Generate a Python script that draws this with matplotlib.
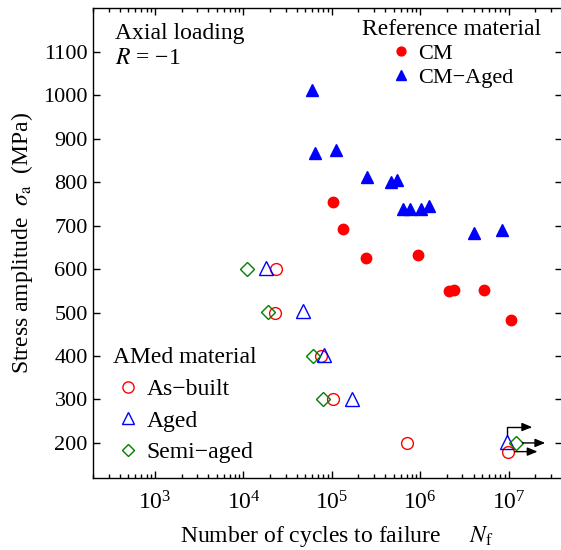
import matplotlib
matplotlib.use("Agg")
import matplotlib.pyplot as plt
from matplotlib.transforms import offset_copy

plt.rcParams['font.family'] = ['Liberation Serif', 'DejaVu Serif']
plt.rcParams['mathtext.fontset'] = 'stix'

# reference material (wrought) -- cycles, stress amplitude MPa
cm_n = [1.02e5, 1.32e5, 2.44e5, 9.5e5, 2.1e6, 2.43e6, 5.2e6, 1.05e7]
cm_s = [754, 693, 626, 633, 550, 553, 553, 483]

cm_aged_n = [5.9e4, 6.4e4, 1.11e5, 2.48e5, 4.7e5, 5.4e5, 6.3e5, 7.7e5, 1.01e6, 1.24e6, 4.1e6, 8.4e6]
cm_aged_s = [1012, 868, 875, 812, 800, 806, 738, 738, 738, 744, 684, 689]

# AMed material
asbuilt_n = [2.35e4, 2.28e4, 7.6e4, 1.04e5, 7.0e5, 9.9e6]
asbuilt_s = [600, 500, 400, 300, 200, 180]

aged_n = [1.82e4, 4.7e4, 8.1e4, 1.7e5, 9.6e6]
aged_s = [602, 503, 402, 302, 203]

semi_n = [1.1e4, 1.9e4, 6.1e4, 7.9e4, 1.21e7]
semi_s = [600, 501, 400, 300, 200]

# run-outs (last point of each AMed series), arrow drawn to the right
runout_bent = (aged_n[-1], aged_s[-1])
runouts = [(semi_n[-1], semi_s[-1]), (asbuilt_n[-1], asbuilt_s[-1])]

W, H = 561, 550
fig = plt.figure(figsize=(W / 100, H / 100), dpi=100)
ax = fig.add_axes([93.3 / W, 1 - 477.7 / H, (561.9 - 93.3) / W, (477.7 - 8.3) / H])

ax.plot(cm_n, cm_s, 'o', color='red', ms=7.5, ls='none', label='CM')
ax.plot(cm_aged_n, cm_aged_s, '^', color='blue', ms=8.5, ls='none', label='CM\u2212Aged')
ax.plot(asbuilt_n, asbuilt_s, 'o', mfc='none', mec='red', mew=1.0, ms=8.5, ls='none', label='As\u2212built')
ax.plot(aged_n, aged_s, '^', mfc='none', mec='blue', mew=1.0, ms=9.5, ls='none', label='Aged')
ax.plot(semi_n, semi_s, 'D', mfc='none', mec='green', mew=1.0, ms=6.8, ls='none', label='Semi\u2212aged')

arrow_kw = dict(arrowstyle='-|>,head_length=0.6,head_width=0.25', color='k', lw=1.0,
                shrinkA=0, shrinkB=0, mutation_scale=10)

def pts(dx, dy):
    return offset_copy(ax.transData, fig=fig, x=dx, y=dy, units='points')

for n, s in runouts:
    ax.annotate('', xy=(n, s), xycoords=pts(21, 0), xytext=(n, s), textcoords=pts(4.5, 0),
                arrowprops=arrow_kw)
n, s = runout_bent
ax.annotate('', xy=(n, s), xycoords=pts(18, 10.5), xytext=(n, s), textcoords=pts(0, 4),
            arrowprops=dict(arrow_kw, connectionstyle='angle,angleA=90,angleB=0,rad=0'))

ax.set_xscale('log')
ax.set_xlim(200, 4e7)
ax.set_ylim(120, 1200)
ax.set_yticks(range(200, 1101, 100))

ax.tick_params(which='both', direction='in', top=True, right=True, width=1.0)
ax.tick_params(which='major', length=5)
ax.tick_params(which='minor', length=3)
ax.tick_params(axis='y', labelsize=16, pad=4)
ax.tick_params(axis='x', labelsize=17, pad=10)
for sp in ax.spines.values():
    sp.set_linewidth(1.0)

ax.set_xlabel(r'Number of cycles to failure     $N_{\rm f}$', fontsize=17)
ax.xaxis.set_label_coords(0.52, -0.098)
ax.set_ylabel(r'Stress amplitude  $\sigma_{\rm a}$  (MPa)', fontsize=17, labelpad=6)

ax.text(0.046, 0.968, 'Axial loading', transform=ax.transAxes, fontsize=17, va='top', ha='left')
ax.text(0.046, 0.915, '$R$ = \u22121', transform=ax.transAxes,
        fontsize=17, va='top', ha='left')

h = ax.get_lines()
leg1 = ax.legend(h[:2], [l.get_label() for l in h[:2]], title='Reference material',
                 loc='upper left', bbox_to_anchor=(0.54, 1.01), frameon=False,
                 fontsize=16, title_fontsize=17, handlelength=1.0, handletextpad=0.3,
                 labelspacing=0.15, borderpad=0.2, markerscale=0.85)
ax.add_artist(leg1)
ax.legend(h[2:], [l.get_label() for l in h[2:]], title='AMed material',
          loc='upper left', bbox_to_anchor=(0.007, 0.313), frameon=False,
          fontsize=17, title_fontsize=17, handlelength=1.0, handletextpad=0.3,
          labelspacing=0.43, borderpad=0.2, markerscale=0.95)

fig.savefig('out.png', dpi=100)
